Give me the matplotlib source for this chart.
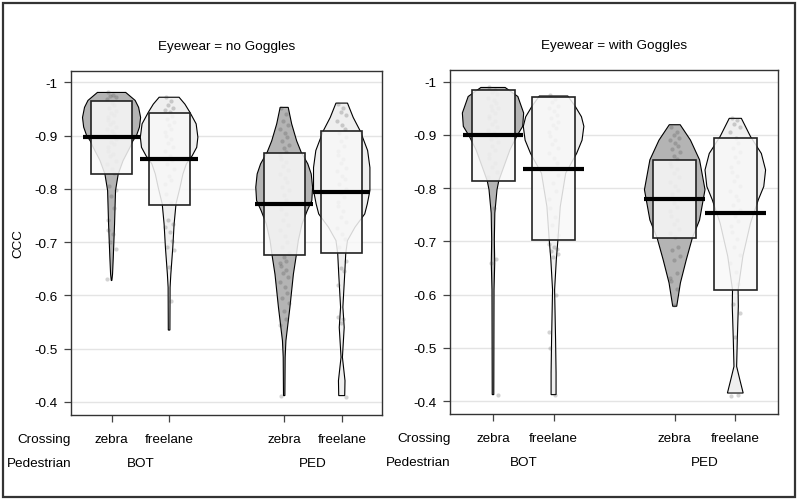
import matplotlib
matplotlib.use("Agg")
import matplotlib.pyplot as plt
import numpy as np
from matplotlib.patches import Rectangle
from matplotlib.ticker import FuncFormatter

plt.rcParams["font.family"] = ["Liberation Sans", "DejaVu Sans"]
plt.rcParams["font.size"] = 9.7

panel_titles = ["Eyewear = no Goggles", "Eyewear = with Goggles"]
crossing = ["zebra", "freelane", "zebra", "freelane"]
pedestrian = ["BOT", "PED"]
positions = [1, 2, 4, 5]
y_ticks = [-1.0, -0.9, -0.8, -0.7, -0.6, -0.5, -0.4]

# bean outlines: CCC magnitude and half width (in x units)
nog_bot_zebra_v = [0.981, 0.966, 0.953, 0.934, 0.916, 0.900, 0.890, 0.878, 0.853, 0.828, 0.797, 0.734, 0.672, 0.640, 0.628]
nog_bot_zebra_w = [0.246, 0.41, 0.47, 0.505, 0.485, 0.433, 0.37, 0.32, 0.20, 0.116, 0.069, 0.052, 0.03, 0.017, 0.005]
nog_bot_free_v = [0.972, 0.959, 0.944, 0.922, 0.897, 0.878, 0.862, 0.847, 0.828, 0.803, 0.772, 0.734, 0.690, 0.640, 0.615, 0.535]
nog_bot_free_w = [0.173, 0.275, 0.36, 0.47, 0.50, 0.48, 0.40, 0.30, 0.24, 0.19, 0.12, 0.087, 0.064, 0.03, 0.017, 0.014]
nog_ped_zebra_v = [0.953, 0.922, 0.890, 0.869, 0.847, 0.828, 0.803, 0.778, 0.759, 0.734, 0.703, 0.675, 0.640, 0.578, 0.515, 0.484, 0.412]
nog_ped_zebra_w = [0.07, 0.13, 0.217, 0.295, 0.41, 0.47, 0.494, 0.48, 0.40, 0.31, 0.245, 0.21, 0.16, 0.10, 0.03, 0.017, 0.012]
nog_ped_free_v = [0.961, 0.934, 0.909, 0.872, 0.840, 0.797, 0.772, 0.753, 0.728, 0.703, 0.679, 0.640, 0.578, 0.540, 0.484, 0.440, 0.412]
nog_ped_free_w = [0.10, 0.20, 0.32, 0.45, 0.49, 0.49, 0.445, 0.40, 0.23, 0.10, 0.07, 0.052, 0.02, 0.043, 0.012, 0.057, 0.052]

wg_bot_zebra_v = [0.989, 0.972, 0.941, 0.916, 0.897, 0.872, 0.828, 0.814, 0.797, 0.753, 0.703, 0.659, 0.609, 0.412]
wg_bot_zebra_w = [0.20, 0.41, 0.506, 0.49, 0.39, 0.28, 0.14, 0.096, 0.066, 0.03, 0.022, 0.028, 0.017, 0.013]
wg_bot_free_v = [0.973, 0.953, 0.934, 0.916, 0.890, 0.865, 0.828, 0.765, 0.703, 0.665, 0.609, 0.515, 0.453, 0.412]
wg_bot_free_w = [0.235, 0.36, 0.46, 0.50, 0.47, 0.38, 0.20, 0.11, 0.072, 0.045, 0.017, 0.033, 0.041, 0.041]
wg_ped_zebra_v = [0.919, 0.890, 0.853, 0.797, 0.740, 0.706, 0.665, 0.622, 0.578]
wg_ped_zebra_w = [0.09, 0.26, 0.41, 0.50, 0.41, 0.29, 0.19, 0.094, 0.033]
wg_ped_free_v = [0.931, 0.897, 0.865, 0.834, 0.803, 0.778, 0.734, 0.672, 0.609, 0.578, 0.515, 0.465, 0.440, 0.415]
wg_ped_free_w = [0.10, 0.25, 0.43, 0.50, 0.47, 0.38, 0.25, 0.125, 0.046, 0.05, 0.033, 0.022, 0.075, 0.13]

# inference band (low, high) and mean, CCC magnitude
nog_low = [0.828, 0.770, 0.676, 0.679]
nog_high = [0.964, 0.942, 0.868, 0.908]
nog_mean = [0.897, 0.856, 0.772, 0.794]
wg_low = [0.814, 0.703, 0.706, 0.609]
wg_high = [0.984, 0.971, 0.852, 0.895]
wg_mean = [0.900, 0.836, 0.779, 0.753]

# raw observations (magnitudes)
nog_bot_zebra_pts = [0.982, 0.976, 0.975, 0.973, 0.968, 0.962, 0.957, 0.951, 0.946, 0.943, 0.938, 0.934, 0.93, 0.926,
                     0.921, 0.917, 0.913, 0.908, 0.903, 0.899, 0.893, 0.888, 0.884, 0.879, 0.872, 0.866, 0.861, 0.853,
                     0.846, 0.838, 0.829, 0.805, 0.797, 0.786, 0.765, 0.742, 0.722, 0.715, 0.70, 0.687, 0.63]
nog_bot_free_pts = [0.972, 0.965, 0.958, 0.952, 0.948, 0.944, 0.937, 0.931, 0.925, 0.919, 0.913, 0.907, 0.90, 0.894,
                    0.886, 0.879, 0.871, 0.862, 0.855, 0.846, 0.838, 0.825, 0.817, 0.81, 0.79, 0.773, 0.742, 0.735,
                    0.728, 0.72, 0.702, 0.69, 0.685, 0.653, 0.59]
nog_ped_zebra_pts = [0.952, 0.94, 0.928, 0.92, 0.912, 0.905, 0.898, 0.89, 0.882, 0.876, 0.87, 0.864, 0.857, 0.85,
                     0.842, 0.835, 0.828, 0.82, 0.812, 0.803, 0.797, 0.788, 0.78, 0.771, 0.762, 0.752, 0.742, 0.733,
                     0.722, 0.712, 0.70, 0.69, 0.68, 0.672, 0.665, 0.66, 0.655, 0.648, 0.642, 0.635, 0.625, 0.615,
                     0.605, 0.595, 0.585, 0.57, 0.555, 0.545, 0.412]
nog_ped_free_pts = [0.96, 0.952, 0.945, 0.938, 0.928, 0.92, 0.912, 0.905, 0.897, 0.889, 0.881, 0.872, 0.864, 0.856,
                    0.848, 0.84, 0.833, 0.825, 0.818, 0.81, 0.80, 0.792, 0.784, 0.776, 0.768, 0.758, 0.748, 0.738,
                    0.726, 0.715, 0.705, 0.69, 0.665, 0.652, 0.645, 0.62, 0.56, 0.555, 0.548, 0.41]
wg_bot_zebra_pts = [0.99, 0.985, 0.98, 0.976, 0.97, 0.965, 0.96, 0.955, 0.95, 0.946, 0.941, 0.936, 0.931, 0.926,
                    0.92, 0.915, 0.909, 0.904, 0.898, 0.892, 0.886, 0.879, 0.872, 0.864, 0.856, 0.848, 0.84, 0.83,
                    0.82, 0.762, 0.666, 0.66, 0.412]
wg_bot_free_pts = [0.975, 0.968, 0.962, 0.955, 0.95, 0.944, 0.937, 0.931, 0.925, 0.918, 0.912, 0.905, 0.898, 0.89,
                   0.883, 0.875, 0.866, 0.857, 0.848, 0.836, 0.824, 0.81, 0.795, 0.78, 0.762, 0.745, 0.73, 0.712,
                   0.695, 0.69, 0.686, 0.682, 0.676, 0.67, 0.60, 0.53, 0.50, 0.412]
wg_ped_zebra_pts = [0.915, 0.905, 0.90, 0.895, 0.89, 0.885, 0.879, 0.873, 0.867, 0.861, 0.855, 0.848, 0.842, 0.835,
                    0.828, 0.82, 0.812, 0.804, 0.796, 0.788, 0.78, 0.772, 0.764, 0.756, 0.748, 0.74, 0.732, 0.724,
                    0.716, 0.708, 0.69, 0.684, 0.672, 0.665, 0.64, 0.632, 0.625, 0.61, 0.58]
wg_ped_free_pts = [0.932, 0.928, 0.92, 0.915, 0.905, 0.895, 0.885, 0.876, 0.867, 0.858, 0.849, 0.84, 0.831, 0.822,
                   0.813, 0.804, 0.795, 0.786, 0.777, 0.768, 0.758, 0.748, 0.738, 0.728, 0.718, 0.705, 0.69, 0.675,
                   0.66, 0.642, 0.62, 0.582, 0.565, 0.52, 0.412, 0.41]

jitter = [-0.06, 0.03, -0.02, 0.07, -0.08, 0.01, 0.05, -0.04, 0.08, -0.01, 0.04, -0.07]
bean_colors = ["#b4b4b4", "#efefef", "#b4b4b4", "#efefef"]

panels = [
    dict(title=panel_titles[0], rect=[71 / 800, 1 - 416 / 502, 311 / 800, 344.3 / 502],
         beans=[(nog_bot_zebra_v, nog_bot_zebra_w), (nog_bot_free_v, nog_bot_free_w),
                (nog_ped_zebra_v, nog_ped_zebra_w), (nog_ped_free_v, nog_ped_free_w)],
         pts=[nog_bot_zebra_pts, nog_bot_free_pts, nog_ped_zebra_pts, nog_ped_free_pts],
         low=nog_low, high=nog_high, mean=nog_mean, ylabel="CCC"),
    dict(title=panel_titles[1], rect=[450.3 / 800, 1 - 415 / 502, 327.4 / 800, 344 / 502],
         beans=[(wg_bot_zebra_v, wg_bot_zebra_w), (wg_bot_free_v, wg_bot_free_w),
                (wg_ped_zebra_v, wg_ped_zebra_w), (wg_ped_free_v, wg_ped_free_w)],
         pts=[wg_bot_zebra_pts, wg_bot_free_pts, wg_ped_zebra_pts, wg_ped_free_pts],
         low=wg_low, high=wg_high, mean=wg_mean, ylabel=None),
]

fig = plt.figure(figsize=(8, 5.02), dpi=100)

for p in panels:
    ax = fig.add_axes(p["rect"])
    ax.set_xlim(0.295, 5.7)
    ax.set_ylim(-0.3756, -1.0218)
    for y in y_ticks:
        ax.axhline(y, color="#e4e4e4", lw=1, zorder=0)

    for i, x in enumerate(positions):
        v = -np.array(p["beans"][i][0])
        w = np.array(p["beans"][i][1])
        xs = np.concatenate([x + w, (x - w)[::-1]])
        ys = np.concatenate([v, v[::-1]])
        ax.fill(xs, ys, facecolor=bean_colors[i], edgecolor="black", lw=0.8, zorder=1)

        pts = -np.array(p["pts"][i])
        jx = x + np.array([jitter[k % len(jitter)] for k in range(len(pts))])
        ax.scatter(jx, pts, s=9, color="#3a3a3a", alpha=0.22, lw=0, zorder=2)

        lo, hi = -p["low"][i], -p["high"][i]
        ax.add_patch(Rectangle((x - 0.355, hi), 0.71, lo - hi, facecolor="#f8f8f8",
                               alpha=0.86, edgecolor="none", zorder=3))
        ax.add_patch(Rectangle((x - 0.355, hi), 0.71, lo - hi, facecolor="none",
                               edgecolor="#222222", lw=1.2, zorder=4))
        ax.plot([x - 0.5, x + 0.5], [-p["mean"][i]] * 2, color="black", lw=3, zorder=5,
                solid_capstyle="butt")

    ax.set_yticks(y_ticks)
    ax.yaxis.set_major_formatter(FuncFormatter(lambda val, pos: f"{val:g}"))
    ax.set_xticks(positions)
    ax.set_xticklabels([])
    ax.tick_params(length=5.3, width=0.9, color="#444444", pad=4.5, labelsize=9.7)
    for s in ax.spines.values():
        s.set_color("#333333")
        s.set_linewidth(1.0)

    ax.text(0.5, 1 + 25 / 344, p["title"], transform=ax.transAxes, ha="center", va="center")
    trans = ax.get_xaxis_transform()
    for x, lab in zip(positions, crossing):
        ax.text(x, -24 / 344, lab, transform=trans, ha="center", va="center")
    for x, lab in zip([1.5, 4.5], pedestrian):
        ax.text(x, -48 / 344, lab, transform=trans, ha="center", va="center")
    ax.text(0, -24 / 344, "Crossing", transform=ax.transAxes, ha="right", va="center")
    ax.text(0, -48 / 344, "Pedestrian", transform=ax.transAxes, ha="right", va="center")
    if p["ylabel"]:
        fig.text(18 / 800, 1 - 244 / 502, p["ylabel"], rotation=90, ha="center", va="center")

fig.patches.append(Rectangle((3 / 800, 1 - 498 / 502), 792 / 800, 494 / 502, transform=fig.transFigure,
                             fill=False, edgecolor="#333333", lw=1.6))

fig.savefig("out.png", dpi=100)
